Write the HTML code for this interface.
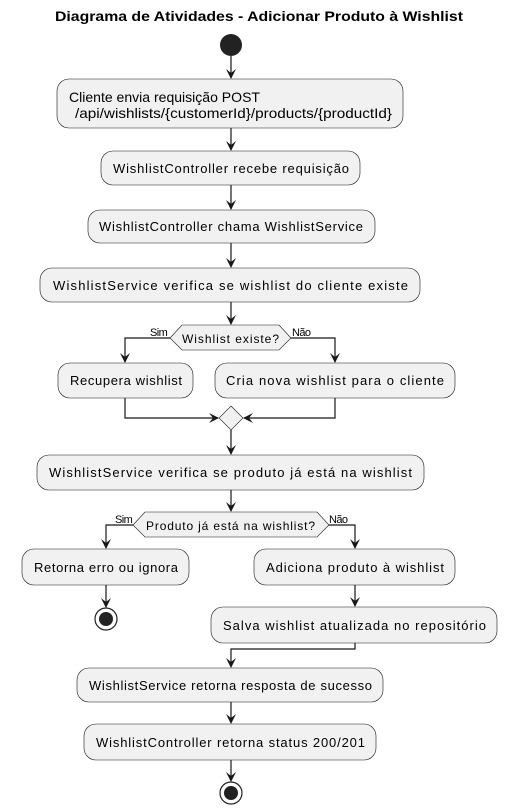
<!DOCTYPE html>
<html><head><meta charset="utf-8"><style>
body{margin:0;background:#fff}
svg{display:block}
text{font-family:"Liberation Sans",sans-serif;fill:#000}
.b{fill:#f1f1f1;stroke:#181818;stroke-width:0.6}
.l{stroke:#181818;stroke-width:1.2;fill:none}
.a{fill:#181818}
.t{font-size:13px}
.s{font-size:11px;letter-spacing:-0.6px}
</style></head><body>
<svg width="508" height="812" viewBox="0 0 508 812">
<text x="55" y="21" textLength="408" lengthAdjust="spacingAndGlyphs" style="font-size:14px;font-weight:bold">Diagrama de Atividades - Adicionar Produto à Wishlist</text>
<circle cx="231" cy="45" r="11" fill="#222"/>
<defs><path id="ah" d="M-5,-9 L0,1 L5,-9 L0,-5 Z"/></defs>
<path class="l" d="M231 56V78M231 128V150M231 185V209M231 243V267M231 302V324M231 430V454M231 490V511M231 702V723M231 760V781"/>
<use href="#ah" x="231" y="78" class="a"/><use href="#ah" x="231" y="150" class="a"/><use href="#ah" x="231" y="209" class="a"/><use href="#ah" x="231" y="267" class="a"/><use href="#ah" x="231" y="324" class="a"/><use href="#ah" x="231" y="454" class="a"/><use href="#ah" x="231" y="511" class="a"/><use href="#ah" x="231" y="723" class="a"/><use href="#ah" x="231" y="781" class="a"/>
<rect class="b" x="57" y="79" width="346" height="49" rx="12"/>
<text x="69" y="102" textLength="191" lengthAdjust="spacingAndGlyphs" style="font-size:14px">Cliente envia requisição POST</text>
<text x="75" y="118" textLength="317" lengthAdjust="spacingAndGlyphs" style="font-size:14px">/api/wishlists/{customerId}/products/{productId}</text>
<rect class="b" x="101" y="151" width="259" height="34" rx="12"/>
<text class="t" x="113" y="173" textLength="236" lengthAdjust="spacing">WishlistController recebe requisição</text>
<rect class="b" x="88" y="210" width="287" height="33" rx="12"/>
<text class="t" x="99" y="231" textLength="264" lengthAdjust="spacing">WishlistController chama WishlistService</text>
<rect class="b" x="40" y="268" width="380" height="34" rx="12"/>
<text class="t" x="53" y="290" textLength="355" lengthAdjust="spacing">WishlistService verifica se wishlist do cliente existe</text>
<polygon class="b" points="170,338 182,325 279,325 291,338 279,350 182,350"/>
<text x="182" y="343" textLength="97" lengthAdjust="spacing" style="font-size:12px">Wishlist existe?</text>
<text class="s" x="150" y="336">Sim</text><text class="s" x="292" y="336">Não</text>
<path class="l" d="M170 338H125V362M291 338H335V362"/>
<use href="#ah" x="125" y="362" class="a"/><use href="#ah" x="335" y="362" class="a"/>
<rect class="b" x="58" y="363" width="135" height="35" rx="12"/>
<text class="t" x="70" y="385" textLength="112" lengthAdjust="spacing">Recupera wishlist</text>
<rect class="b" x="215" y="363" width="240" height="35" rx="12"/>
<text class="t" x="226" y="385" textLength="218" lengthAdjust="spacing">Cria nova wishlist para o cliente</text>
<path class="l" d="M125 398V418H218M335 398V418H244"/>
<use href="#ah" x="218" y="418" class="a" transform="rotate(-90 218 418)"/>
<use href="#ah" x="244" y="418" class="a" transform="rotate(90 244 418)"/>
<polygon class="b" points="231,406 243,418 231,430 219,418"/>
<rect class="b" x="37" y="455" width="387" height="35" rx="12"/>
<text class="t" x="49" y="477" textLength="363" lengthAdjust="spacing">WishlistService verifica se produto já está na wishlist</text>
<polygon class="b" points="133,525 145,512 317,512 329,525 317,537 145,537"/>
<text x="146" y="530" textLength="169" lengthAdjust="spacing" style="font-size:12px">Produto já está na wishlist?</text>
<text class="s" x="115" y="523">Sim</text><text class="s" x="329" y="523">Não</text>
<path class="l" d="M133 525H106V548M329 525H355V548M106 585V607M355 585V606M355 643V649H231V667"/>
<use href="#ah" x="106" y="548" class="a"/><use href="#ah" x="355" y="548" class="a"/><use href="#ah" x="106" y="607" class="a"/><use href="#ah" x="355" y="606" class="a"/><use href="#ah" x="231" y="667" class="a"/>
<rect class="b" x="22" y="549" width="167" height="36" rx="12"/>
<text class="t" x="34" y="572" textLength="144" lengthAdjust="spacing">Retorna erro ou ignora</text>
<rect class="b" x="254" y="549" width="201" height="36" rx="12"/>
<text class="t" x="266" y="572" textLength="178" lengthAdjust="spacing">Adiciona produto à wishlist</text>
<rect class="b" x="211" y="607" width="286" height="36" rx="12"/>
<text class="t" x="223" y="630" textLength="263" lengthAdjust="spacing">Salva wishlist atualizada no repositório</text>
<circle cx="106" cy="619" r="11" fill="#fff" stroke="#222" stroke-width="1.2"/><circle cx="106" cy="619" r="7" fill="#222"/>
<rect class="b" x="77" y="668" width="306" height="34" rx="12"/>
<text class="t" x="89" y="690" textLength="283" lengthAdjust="spacing">WishlistService retorna resposta de sucesso</text>
<rect class="b" x="84" y="724" width="292" height="36" rx="12"/>
<text class="t" x="96" y="747" textLength="269" lengthAdjust="spacing">WishlistController retorna status 200/201</text>
<circle cx="231" cy="793" r="11" fill="#fff" stroke="#222" stroke-width="1.2"/><circle cx="231" cy="793" r="7" fill="#222"/>
</svg>
</body></html>
